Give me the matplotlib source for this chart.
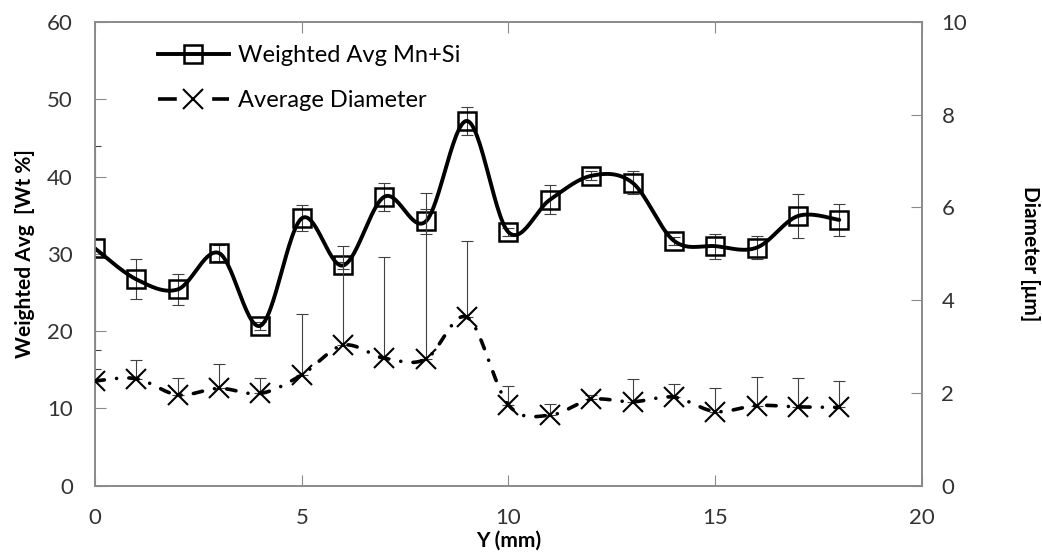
import matplotlib.pyplot as plt
import numpy as np
from matplotlib.lines import Line2D

plt.rcParams["font.family"] = ["Lato", "DejaVu Sans"]

# position along Y (mm)
y_mm = [0, 1, 2, 3, 4, 5, 6, 7, 8, 9, 10, 11, 12, 13, 14, 15, 16, 17, 18]
# weighted average Mn+Si (wt %) and its +/- error
mnsi = [30.7, 26.7, 25.4, 30.1, 20.7, 34.6, 28.5, 37.4, 34.2, 47.2,
        32.8, 37.0, 40.1, 39.2, 31.7, 31.0, 30.8, 34.9, 34.4]
mnsi_err = [13.2, 2.6, 2.0, 1.0, 0.5, 1.7, 0.5, 1.8, 1.6, 1.8,
            0.5, 1.9, 0.6, 1.5, 0.5, 1.6, 1.5, 2.85, 2.05]
# average diameter (um) and its upper error
diam = [2.26, 2.31, 1.96, 2.10, 1.99, 2.39, 3.03, 2.75, 2.73, 3.63,
        1.74, 1.52, 1.86, 1.81, 1.91, 1.60, 1.73, 1.70, 1.69]
diam_err = [0.25, 0.40, 0.37, 0.52, 0.33, 1.31, 2.15, 2.18, 3.58, 1.65,
            0.41, 0.24, 0.10, 0.50, 0.29, 0.50, 0.61, 0.62, 0.57]


def excel_smooth(x, y, n=30):
    """Bezier smoothing like Excel's 'smoothed line' option."""
    p = np.column_stack([x, y]).astype(float)
    pe = np.vstack([p[0], p, p[-1]])
    t = np.linspace(0, 1, n)[:, None]
    segs = []
    for i in range(len(p) - 1):
        p0, p1, p2, p3 = pe[i], pe[i + 1], pe[i + 2], pe[i + 3]
        c1 = p1 + (p2 - p0) / 6
        c2 = p2 - (p3 - p1) / 6
        seg = ((1 - t) ** 3) * p1 + 3 * ((1 - t) ** 2) * t * c1 \
            + 3 * (1 - t) * t ** 2 * c2 + t ** 3 * p2
        segs.append(seg if i == 0 else seg[1:])
    s = np.vstack(segs)
    return s[:, 0], s[:, 1]


spine_col = "#8a8a8a"
text_col = "#333333"
err_col = "#404040"

fig = plt.figure(figsize=(10.42, 5.56), dpi=100)
ax = fig.add_axes([0.0912, 0.1264, 0.7936, 0.834])
ax2 = ax.twinx()

# weighted average
ax.errorbar(y_mm, mnsi, yerr=mnsi_err, fmt="none", ecolor=err_col,
            elinewidth=0.8, capsize=4.3, capthick=0.8, zorder=2)
xs, ys = excel_smooth(y_mm, mnsi)
ax.plot(xs, ys, color="black", lw=2.8, zorder=3, solid_capstyle="round")
ax.plot(y_mm, mnsi, ls="none", marker="s", ms=13, mfc="none", mec="black",
        mew=1.8, zorder=4)

# diameter on secondary axis
ax2.errorbar(y_mm, diam, yerr=[np.zeros(len(diam)), diam_err], fmt="none",
             ecolor=err_col, elinewidth=0.8, capsize=4.3, capthick=0.8,
             zorder=2)
xd, yd = excel_smooth(y_mm, diam)
ax2.plot(xd, yd, color="black", lw=2.6, ls=(0, (2.6, 3.4, 0.01, 3.4)),
         dash_capstyle="round", zorder=3)
ax2.plot(y_mm, diam, ls="none", marker="x", ms=14, mec="black", mew=1.5,
         zorder=4)

ax.set_xlim(0, 20)
ax.set_ylim(0, 60)
ax2.set_ylim(0, 10)
ax.set_xticks([0, 5, 10, 15, 20])
ax.set_yticks(range(0, 61, 10))
ax2.set_yticks(range(0, 11, 2))

for a in (ax, ax2):
    for s in a.spines.values():
        s.set_color(spine_col)
        s.set_linewidth(1.2)
ax.tick_params(axis="x", direction="in", length=8, color=spine_col,
               top=True, labelsize=16, labelcolor=text_col, pad=16)
ax.tick_params(axis="y", direction="in", length=8, color=spine_col,
               labelsize=16, labelcolor=text_col, pad=16)
ax2.tick_params(axis="y", direction="in", length=8, color=spine_col,
                labelsize=16, labelcolor=text_col, pad=14)

ax.set_xlabel("Y (mm)", fontsize=15, fontweight="bold", color="black")
ax.xaxis.set_label_coords(0.5, -0.097)
ax.set_ylabel("Weighted Avg  [Wt %]", fontsize=15, fontweight="bold")
ax.yaxis.set_label_coords(-0.073, 0.5)
ax2.set_ylabel("Diameter [\u03bcm]", fontsize=15, fontweight="bold",
               rotation=-90, va="center")
ax2.yaxis.set_label_coords(1.131, 0.5)

handles = [
    Line2D([], [], color="black", lw=2.8, marker="s", ms=13, mfc="none",
           mew=1.8),
    Line2D([], [], color="black", lw=2.6, ls=(0, (5.2, 9.8)), marker="x",
           ms=14, mew=1.5),
]
ax.legend(handles, ["Weighted Avg Mn+Si", "Average Diameter"],
          loc="upper left", bbox_to_anchor=(0.076, 0.95), frameon=False,
          fontsize=17, handlelength=3.0, handletextpad=0.4,
          labelspacing=1.0, borderpad=0, borderaxespad=0)

fig.savefig("out.png", dpi=100)
